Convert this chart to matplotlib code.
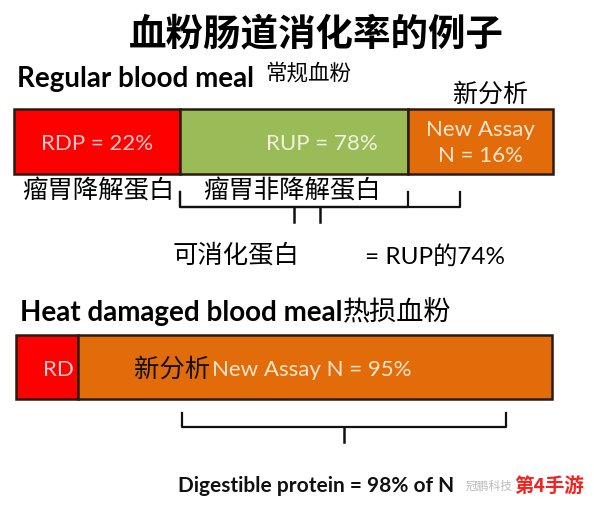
import matplotlib.pyplot as plt

plt.rcParams['font.family'] = ['Lato', 'Noto Sans CJK SC', 'DejaVu Sans']

# text content
title = "血粉肠道消化率的例子"
regular_name = "Regular blood meal"
regular_cn = "常规血粉"
heat_name = "Heat damaged blood meal"
heat_cn = "热损血粉"
caption = "Digestible protein = 98% of N"

# segments of each bar: label and share of the drawn bar length (%)
regular_labels = ["RDP = 22%", "RUP = 78%", "New Assay\nN = 16%"]
regular_widths = [30.8, 42.3, 26.9]
heat_labels = ["RD", "New Assay N = 95%"]
heat_widths = [11.6, 88.4]

red, green, orange = "#fe0000", "#9bbb59", "#e36c0a"
edge = "#2b1a0e"

fig = plt.figure(figsize=(5.94, 5.06), dpi=100)
ax = fig.add_axes([0, 0, 1, 1])
ax.set_xlim(0, 594)
ax.set_ylim(506, 0)
ax.axis('off')


def stacked(ax, widths, colors, x0, length, yc, h):
    lefts = []
    pos = x0
    for w in widths:
        lefts.append(pos)
        pos += w * length / 100
    ax.barh([yc] * len(widths), [w * length / 100 for w in widths], left=lefts,
            height=h, color=colors, edgecolor=edge, linewidth=1.8)
    return lefts + [pos]


def brace(ax, x0, x1, ytop, ybar, ytip):
    xm = (x0 + x1) / 2
    ax.plot([x0, x0, x1, x1], [ytop, ybar, ybar, ytop], color="#111", lw=1.6,
            solid_joinstyle='round')
    ax.plot([xm, xm], [ybar, ytip], color="#111", lw=1.8)


ax.text(316, 35, title, ha='center', va='center', fontsize=27,
        family='Noto Sans CJK SC', weight='bold')

# regular blood meal
ax.text(17, 79, regular_name, ha='left', va='center', fontsize=20, weight='bold')
ax.text(265, 74, regular_cn, ha='left', va='center', fontsize=15.5,
        family='Noto Sans CJK SC')
ax.text(490, 95, "新分析", ha='center', va='center', fontsize=18,
        family='Noto Sans CJK SC')

b1 = stacked(ax, regular_widths, [red, green, orange], 14, 539, 142.5, 65)
ax.text((b1[0] + b1[1]) / 2, 144, regular_labels[0], ha='center', va='center',
        fontsize=16, color="#f7cdcd")
ax.text((b1[1] + b1[2]) / 2 + 28, 144, regular_labels[1], ha='center', va='center',
        fontsize=16, color="#eef4de")
ax.text((b1[2] + b1[3]) / 2, 143, regular_labels[2], ha='center', va='center',
        fontsize=16, color="#fde6cc", linespacing=1.35)

ax.text(22, 192, "瘤胃降解蛋白", ha='left', va='center', fontsize=18.3,
        family='Noto Sans CJK SC')
ax.text(203, 192, "瘤胃非降解蛋白", ha='left', va='center', fontsize=18.3,
        family='Noto Sans CJK SC')

brace(ax, b1[1], b1[2], 193, 208, 223)
brace(ax, b1[1], 460, 193, 208, 223)

ax.text(173, 256, "可消化蛋白", ha='left', va='center', fontsize=18.3,
        family='Noto Sans CJK SC')
ax.text(365, 256, "= RUP的74%", ha='left', va='center', fontsize=17.5)

# heat damaged blood meal
hn = ax.text(20, 313, heat_name, ha='left', va='center', fontsize=20, weight='bold')
ax.annotate(heat_cn, xy=(1, 0.5), xycoords=hn, ha='left', va='center',
            fontsize=19.5, family='Noto Sans CJK SC', weight='medium')
b2 = stacked(ax, heat_widths, [red, orange], 16, 536, 368, 64)
ax.text(b2[1] - 4, 370, heat_labels[0], ha='right', va='center',
        fontsize=16, color="#f7cdcd")
ax.text(134, 370, "新分析", ha='left', va='center', fontsize=18.3,
        family='Noto Sans CJK SC', color="#111")
ax.text(212, 370, heat_labels[1], ha='left', va='center', fontsize=16,
        color="#fde6cc")

brace(ax, 182, 506, 414, 428, 443)

ax.text(178, 486, caption, ha='left', va='center',
        fontsize=15, weight='bold', color="#111")
ax.text(466, 486, "冠鹏科技", ha='left', va='center', fontsize=8.5,
        family='Noto Sans CJK SC', color="#bbbbbb")
ax.text(514, 487, "第4手游", ha='left', va='center', fontsize=14,
        family='Noto Sans CJK SC', weight='bold', color="#f52020")

fig.savefig("out.png", dpi=100)
